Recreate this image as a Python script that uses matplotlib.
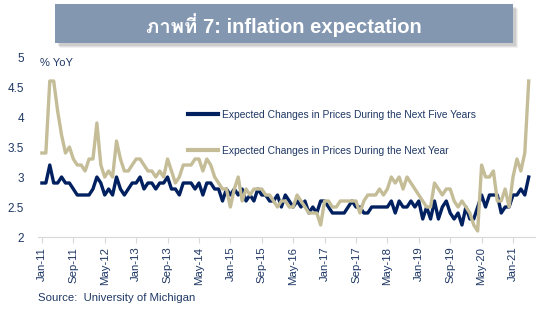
import matplotlib
matplotlib.use("Agg")
import matplotlib.pyplot as plt
from matplotlib import font_manager
from matplotlib.ft2font import FT2Font
from matplotlib.patches import Rectangle

# University of Michigan survey, monthly, Jan-2011 .. May-2021 (% YoY)
next_five_years = [
    2.9, 2.9, 3.2, 2.9, 2.9, 3.0, 2.9, 2.9, 2.8, 2.7, 2.7, 2.7,   # 2011
    2.7, 2.8, 3.0, 2.9, 2.7, 2.8, 2.7, 3.0, 2.8, 2.7, 2.8, 2.9,   # 2012
    2.9, 3.0, 2.8, 2.9, 2.9, 2.8, 2.9, 2.9, 3.0, 2.8, 2.8, 2.7,   # 2013
    2.9, 2.9, 2.9, 2.8, 2.9, 2.7, 2.9, 2.9, 2.8, 2.8, 2.6, 2.8,   # 2014
    2.7, 2.8, 2.7, 2.8, 2.6, 2.7, 2.6, 2.8, 2.7, 2.7, 2.6, 2.6,   # 2015
    2.7, 2.5, 2.7, 2.6, 2.5, 2.6, 2.5, 2.6, 2.4, 2.5, 2.4, 2.6,   # 2016
    2.6, 2.5, 2.4, 2.4, 2.4, 2.4, 2.5, 2.6, 2.5, 2.5, 2.4, 2.4,   # 2017
    2.5, 2.5, 2.5, 2.5, 2.5, 2.6, 2.4, 2.6, 2.5, 2.5, 2.6, 2.5,   # 2018
    2.6, 2.3, 2.5, 2.3, 2.6, 2.3, 2.5, 2.6, 2.4, 2.3, 2.4, 2.2,   # 2019
    2.5, 2.3, 2.3, 2.5, 2.7, 2.5, 2.7, 2.7, 2.7, 2.4, 2.5, 2.5,   # 2020
    2.7, 2.7, 2.8, 2.7, 3.0,                                      # 2021
]
next_year = [
    3.4, 3.4, 4.6, 4.6, 4.1, 3.7, 3.4, 3.5, 3.3, 3.2, 3.2, 3.1,   # 2011
    3.3, 3.3, 3.9, 3.2, 3.0, 3.1, 3.0, 3.6, 3.3, 3.1, 3.1, 3.2,   # 2012
    3.3, 3.3, 3.2, 3.1, 3.1, 3.0, 3.1, 3.0, 3.3, 3.1, 2.9, 3.0,   # 2013
    3.2, 3.2, 3.2, 3.3, 3.3, 3.1, 3.3, 3.2, 3.0, 2.9, 2.8, 2.8,   # 2014
    2.5, 2.8, 3.0, 2.6, 2.8, 2.7, 2.8, 2.8, 2.8, 2.7, 2.7, 2.6,   # 2015
    2.5, 2.6, 2.6, 2.5, 2.5, 2.7, 2.6, 2.5, 2.4, 2.4, 2.4, 2.2,   # 2016
    2.6, 2.6, 2.5, 2.5, 2.6, 2.6, 2.6, 2.6, 2.6, 2.4, 2.6, 2.7,   # 2017
    2.7, 2.7, 2.8, 2.7, 2.8, 3.0, 2.9, 3.0, 2.8, 3.0, 2.9, 2.8,   # 2018
    2.7, 2.6, 2.5, 2.5, 2.9, 2.8, 2.7, 2.8, 2.8, 2.6, 2.5, 2.6,   # 2019
    2.5, 2.4, 2.2, 2.1, 3.2, 3.0, 3.0, 3.1, 2.6, 2.6, 2.8, 2.5,   # 2020
    3.0, 3.3, 3.1, 3.4, 4.6,                                      # 2021
]
tick_labels = ["Jan-11", "Sep-11", "May-12", "Jan-13", "Sep-13", "May-14",
               "Jan-15", "Sep-15", "May-16", "Jan-17", "Sep-17", "May-18",
               "Jan-19", "Sep-19", "May-20", "Jan-21"]
y_ticks = [2, 2.5, 3, 3.5, 4, 4.5, 5]

label_five = "Expected Changes in Prices During the Next Five Years"
label_one = "Expected Changes in Prices During the Next Year"


def thai_family():
    # first installed family with Thai glyphs
    for f in font_manager.fontManager.ttflist:
        try:
            if 0x0E20 in FT2Font(f.fname).get_charmap():
                return f.name
        except Exception:
            pass
    return None


fams = ["Liberation Sans"]
th = thai_family()
if th:
    fams.append(th)
fams.append("DejaVu Sans")
plt.rcParams["font.family"] = fams

navy = "#1F3864"
blue = "#002060"
tan = "#C4BD97"
W, H = 548, 328

fig = plt.figure(figsize=(W / 100, H / 100), dpi=100)
fig.patch.set_facecolor("white")

# title banner with a soft drop shadow
bx0, by0, bx1, by1 = 55, 4, 513, 43
for k, a in [(5, 0.10), (4, 0.15), (3, 0.2)]:
    fig.patches.append(Rectangle(((bx0 + k) / W, 1 - (by1 + k) / H),
                                 (bx1 - bx0) / W, (by1 - by0) / H,
                                 transform=fig.transFigure, facecolor="#7F7F7F",
                                 alpha=a, edgecolor="none", zorder=0))
fig.patches.append(Rectangle((bx0 / W, 1 - by1 / H), (bx1 - bx0) / W, (by1 - by0) / H,
                             transform=fig.transFigure, facecolor="#8497B0",
                             edgecolor="none", zorder=1))
fig.text(284 / W, 1 - 25 / H, "ภาพที่ 7: inflation expectation",
         color="white", fontsize=14.5, fontweight="bold", ha="center", va="center")

ax = fig.add_axes([38 / W, 1 - 237 / H, (535 - 38) / W, 180 / H])
x = list(range(len(next_year)))
ax.plot(x, next_five_years, color=blue, lw=2.4, label=label_five, solid_joinstyle="round")
ax.plot(x, next_year, color=tan, lw=2.4, label=label_one, solid_joinstyle="round")

ax.set_xlim(-1.0, 125.6)
ax.set_ylim(2, 5)
ax.set_xticks(range(0, 8 * len(tick_labels), 8))
ax.set_xticklabels(tick_labels, rotation=90)
ax.set_yticks(y_ticks)
ax.set_yticklabels([f"{v:g}" for v in y_ticks])

for s in ["top", "right", "left"]:
    ax.spines[s].set_visible(False)
ax.spines["bottom"].set_color("#D9D9D9")
ax.tick_params(axis="x", length=4, color="#D9D9D9", pad=3, labelsize=8.2, labelcolor=navy)
ax.tick_params(axis="y", length=0, pad=10, labelsize=8.5, labelcolor=navy)

leg = ax.legend(loc="upper left", bbox_to_anchor=(188 / W, 1 - 110 / H),
                bbox_transform=fig.transFigure, frameon=False, fontsize=7.4,
                handlelength=2.9, handletextpad=0.4, labelspacing=2.5,
                borderpad=0, borderaxespad=0)
for t in leg.get_texts():
    t.set_color(navy)
for ln in leg.get_lines():
    ln.set_linewidth(3)

fig.text(40 / W, 1 - 63 / H, "% YoY", color=navy, fontsize=8, va="center")
fig.text(38 / W, 1 - 298 / H, "Source:  University of Michigan", color=navy,
         fontsize=8.2, va="center")

fig.savefig("out.png", dpi=100)
